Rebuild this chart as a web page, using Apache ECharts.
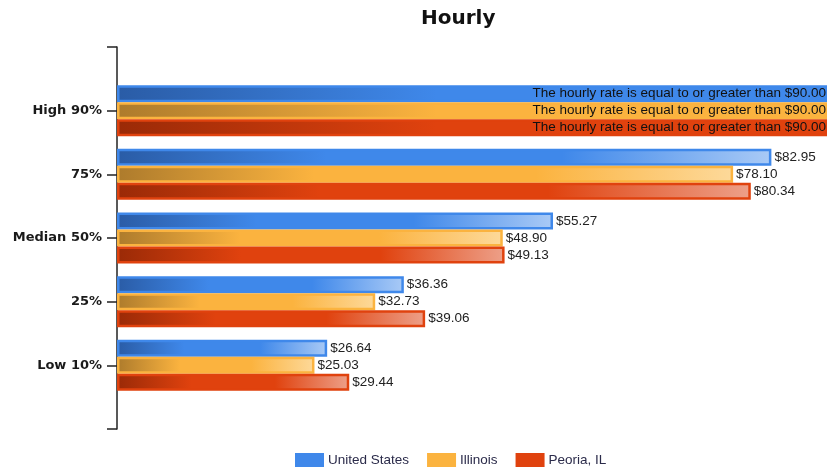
<!DOCTYPE html>
<html>
<head>
<meta charset="utf-8">
<script src="https://cdn.jsdelivr.net/npm/echarts@6/dist/echarts.min.js"></script>
<style>
html, body { margin: 0; padding: 0; background: #fff; }
#chart { width: 827px; height: 469px; }
</style>
</head>
<body>
<div id="chart"></div>
<script>
// 分位数类别
var categories = ['High 90%', '75%', 'Median 50%', '25%', 'Low 10%'];
var seriesNames = ['United States', 'Illinois', 'Peoria, IL'];
// 时薪（美元）
var usValues = [90, 82.95, 55.27, 36.36, 26.64];
var ilValues = [90, 78.10, 48.90, 32.73, 25.03];
var peoriaValues = [90, 80.34, 49.13, 39.06, 29.44];
var capValue = 90;
var capText = 'The hourly rate is equal to or greater than $90.00';

// dark / base / light for each series
var palette = [
  { dark: '#2a5ca6', base: '#3f88ea', light: '#a9caf6' },
  { dark: '#ad7b2c', base: '#fbb33f', light: '#fdd99a' },
  { dark: '#9a2a07', base: '#e0420e', light: '#eda089' }
];

var textFont = 'Liberation Sans, Arial, sans-serif';

function barGradient(p, capped) {
  var stops = capped
    ? [{ offset: 0, color: p.dark }, { offset: 0.45, color: p.base }, { offset: 1, color: p.base }]
    : [{ offset: 0, color: p.dark }, { offset: 0.32, color: p.base }, { offset: 0.68, color: p.base }, { offset: 1, color: p.light }];
  return new echarts.graphic.LinearGradient(0, 0, 1, 0, stops);
}

function buildData(values, p) {
  var items = values.map(function (v) {
    var capped = v >= capValue;
    return {
      value: v,
      itemStyle: { color: barGradient(p, capped) },
      label: capped ? {
        position: 'insideRight',
        distance: 1,
        formatter: capText,
        color: '#111'
      } : {}
    };
  });
  // 两端留空，让轴线两头各多出一格
  return ['-'].concat(items).concat(['-']);
}

var allValues = [usValues, ilValues, peoriaValues];

var series = allValues.map(function (vals, i) {
  var p = palette[i];
  return {
    name: seriesNames[i],
    type: 'bar',
    barWidth: 17,
    barGap: '0%',
    data: buildData(vals, p),
    itemStyle: {
      color: p.base,
      borderColor: p.base,
      borderWidth: 2.5
    },
    label: {
      show: true,
      position: 'right',
      distance: 3,
      fontFamily: textFont,
      fontSize: 13.5,
      color: '#222',
      formatter: function (params) {
        return '$' + Number(params.value).toFixed(2);
      }
    },
    emphasis: { disabled: true },
    animation: false
  };
});

var option = {
  backgroundColor: '#fff',
  color: palette.map(function (p) { return p.base; }),
  title: {
    text: 'Hourly',
    left: 416,
    top: 4,
    textStyle: {
      fontFamily: 'DejaVu Sans, sans-serif',
      fontSize: 20,
      fontWeight: 'bold',
      color: '#111'
    }
  },
  legend: {
    data: seriesNames,
    top: 448,
    left: 290,
    icon: 'rect',
    itemWidth: 27,
    itemHeight: 12,
    itemGap: 18,
    textStyle: {
      fontFamily: textFont,
      fontSize: 13.5,
      color: '#2b2b4a'
    }
  },
  grid: {
    left: 117,
    right: 0,
    top: 47,
    bottom: 40,
    containLabel: false
  },
  xAxis: {
    type: 'value',
    min: 0,
    max: 90,
    show: false
  },
  yAxis: {
    type: 'category',
    inverse: true,
    boundaryGap: false,
    data: [''].concat(categories).concat(['']),
    axisLine: { lineStyle: { color: '#222', width: 1.5 } },
    axisTick: { length: 10, lineStyle: { color: '#222', width: 1.5 } },
    axisLabel: {
      margin: 15,
      fontFamily: 'DejaVu Sans, sans-serif',
      fontSize: 13,
      fontWeight: 'bold',
      color: '#1a1a1a'
    },
    splitLine: { show: false }
  },
  series: series
};

var chart = echarts.init(document.getElementById('chart'));
chart.setOption(option);
</script>
</body>
</html>
